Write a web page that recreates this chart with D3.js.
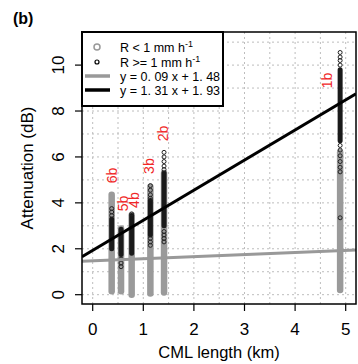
<!DOCTYPE html>
<html><head><meta charset="utf-8">
<script src="https://cdn.jsdelivr.net/npm/d3@7"></script>
<style>html,body{margin:0;padding:0;background:#fff;}svg{display:block;font-family:"Liberation Sans",Arial,sans-serif;}</style>
</head><body>
<svg id="c" width="358" height="364"></svg>
<script>
// ---- data ----
const links = ["6b","5b","4b","3b","2b","1b"];
const lengthKm = [0.375, 0.56, 0.77, 1.14, 1.41, 4.89];
// R < 1 mm/h : dense grey columns (min / max attenuation, dB)
const greyMin = [0.15, 0.15, 0.0, 0.05, 0.1, 0.2];
const greyMax = [4.35, 2.88, 3.46, 4.7, 5.3, 6.2];
// R >= 1 mm/h : dense black part (min / max) plus sparse points
const blackMin = [2.0, 1.75, 1.8, 2.6, 3.0, 6.7];
const blackMax = [3.3, 2.85, 3.45, 4.1, 5.3, 9.8];
const blackSparse = [
  [3.75, 3.6, 3.45],
  [1.55, 1.38, 1.22],
  [3.52],
  [4.75, 4.55, 4.35, 4.2, 2.45, 2.3, 2.15],
  [6.2, 6.0, 5.8, 5.6, 5.45, 2.75, 2.6, 2.45, 2.3],
  [10.55, 10.35, 10.2, 10.0, 6.5, 6.3, 6.05, 5.8, 5.55, 5.35, 3.35]
];
const labelKm = [0.38, 0.60, 0.82, 1.11, 1.40, 4.64];
const labelDb = [5.19, 3.97, 4.12, 5.6, 7.02, 9.33];
const fitSlope = [0.09, 1.31];
const fitIntercept = [1.48, 1.93];
const fitColor = ["#999999", "#000000"];
const legendText = ["R < 1 mm h", "R >= 1 mm h", "y = 0. 09 x + 1. 48", "y = 1. 31 x + 1. 93"];
const xTicks = [0,1,2,3,4,5];
const yTicks = [0,2,4,6,8,10];
const xGrid = [0,0.5,1,1.5,2,2.5,3,3.5,4,4.5,5];
const yGrid = [0,1,2,3,4,5,6,7,8,9,10,11];

// ---- layout ----
const L = 82, R = 356, T = 32, B = 304;
const x = d3.scaleLinear().domain([0,5]).range([92.7, 345.7]);
const y = d3.scaleLinear().domain([0,10]).range([294.7, 65.1]);
const svg = d3.select("#c");

svg.append("defs").append("clipPath").attr("id","clip")
  .append("rect").attr("x",L).attr("y",T).attr("width",R-L).attr("height",B-T);
const g = svg.append("g").attr("clip-path","url(#clip)");

// grid
g.selectAll(".vg").data(xGrid).join("line")
  .attr("x1",d=>x(d)).attr("x2",d=>x(d)).attr("y1",T).attr("y2",B)
  .attr("stroke","#bdbdbd").attr("stroke-width",1).attr("stroke-dasharray","2,3");
g.selectAll(".hg").data(yGrid).join("line")
  .attr("y1",d=>y(d)).attr("y2",d=>y(d)).attr("x1",L).attr("x2",R)
  .attr("stroke","#bdbdbd").attr("stroke-width",1).attr("stroke-dasharray","2,3");

// grey columns
g.selectAll(".gc").data(links).join("line")
  .attr("x1",(d,i)=>x(lengthKm[i])).attr("x2",(d,i)=>x(lengthKm[i]))
  .attr("y1",(d,i)=>y(greyMin[i])).attr("y2",(d,i)=>y(greyMax[i]))
  .attr("stroke","#9a9a9a").attr("stroke-width",6.5).attr("stroke-linecap","round");

// black dense
g.selectAll(".bc").data(links).join("line")
  .attr("x1",(d,i)=>x(lengthKm[i])).attr("x2",(d,i)=>x(lengthKm[i]))
  .attr("y1",(d,i)=>y(blackMin[i])).attr("y2",(d,i)=>y(blackMax[i]))
  .attr("stroke","#1a1a1a").attr("stroke-width",5).attr("stroke-linecap","round");

// black sparse
const pts = [];
blackSparse.forEach((arr,i)=>arr.forEach(v=>pts.push([lengthKm[i],v])));
g.selectAll(".bp").data(pts).join("circle")
  .attr("cx",d=>x(d[0])).attr("cy",d=>y(d[1])).attr("r",2)
  .attr("fill","none").attr("stroke","#222").attr("stroke-width",1);

// fit lines
const x0 = x.invert(L), x1 = x.invert(R);
g.selectAll(".fl").data(fitSlope).join("line")
  .attr("x1",x(x0)).attr("x2",x(x1))
  .attr("y1",(d,i)=>y(d*x0+fitIntercept[i])).attr("y2",(d,i)=>y(d*x1+fitIntercept[i]))
  .attr("stroke",(d,i)=>fitColor[i]).attr("stroke-width",3);

// red labels
svg.selectAll(".lb").data(links).join("text")
  .attr("transform",(d,i)=>`translate(${x(labelKm[i])},${y(labelDb[i])}) rotate(-90)`)
  .attr("text-anchor","middle").attr("dy","0.35em")
  .attr("font-size",14).attr("fill","#f02828").text(d=>d);

// box
svg.append("rect").attr("x",L).attr("y",T).attr("width",R-L).attr("height",B-T)
  .attr("fill","none").attr("stroke","#000").attr("stroke-width",1.5);

// x axis
svg.selectAll(".xt").data(xTicks).join("line")
  .attr("x1",d=>x(d)).attr("x2",d=>x(d)).attr("y1",B).attr("y2",B+7)
  .attr("stroke","#000").attr("stroke-width",1.2);
svg.selectAll(".xl").data(xTicks).join("text")
  .attr("x",d=>x(d)).attr("y",334.5).attr("text-anchor","middle")
  .attr("font-size",17).text(d=>d);
svg.append("text").attr("x",(L+R)/2).attr("y",358).attr("text-anchor","middle")
  .attr("font-size",16.5).text("CML length (km)");

// y axis
svg.selectAll(".yt").data(yTicks).join("line")
  .attr("y1",d=>y(d)).attr("y2",d=>y(d)).attr("x1",L-7).attr("x2",L)
  .attr("stroke","#000").attr("stroke-width",1.2);
svg.selectAll(".yl").data(yTicks).join("text")
  .attr("transform",d=>`translate(64,${y(d)}) rotate(-90)`)
  .attr("text-anchor","middle").attr("font-size",17).text(d=>d);
svg.append("text").attr("transform",`translate(33,${(T+B)/2}) rotate(-90)`)
  .attr("text-anchor","middle").attr("font-size",17).text("Attenuation (dB)");

// panel tag
svg.append("text").attr("x",13).attr("y",24).attr("font-size",16).attr("font-weight","bold").text("(b)");

// legend
const lg = svg.append("g");
lg.append("rect").attr("x",L).attr("y",T).attr("width",141).attr("height",74)
  .attr("fill","#fff").attr("stroke","#000").attr("stroke-width",2);
const rowY = [47, 62, 76, 90];
lg.append("circle").attr("cx",97).attr("cy",rowY[0]).attr("r",3)
  .attr("fill","none").attr("stroke","#999").attr("stroke-width",1.5);
lg.append("circle").attr("cx",97).attr("cy",rowY[1]).attr("r",2)
  .attr("fill","none").attr("stroke","#000").attr("stroke-width",1.2);
[2,3].forEach((k,j)=>{
  lg.append("line").attr("x1",85).attr("x2",110).attr("y1",rowY[k]).attr("y2",rowY[k])
    .attr("stroke",fitColor[j]).attr("stroke-width",3.5);
});
legendText.forEach((t,k)=>{
  const tx = lg.append("text").attr("x",120).attr("y",rowY[k]+4.5).attr("font-size",12.5);
  tx.append("tspan").text(t);
  if(k<2) tx.append("tspan").attr("font-size",9).attr("dy",-5).text("-1");
});
</script>
</body></html>
